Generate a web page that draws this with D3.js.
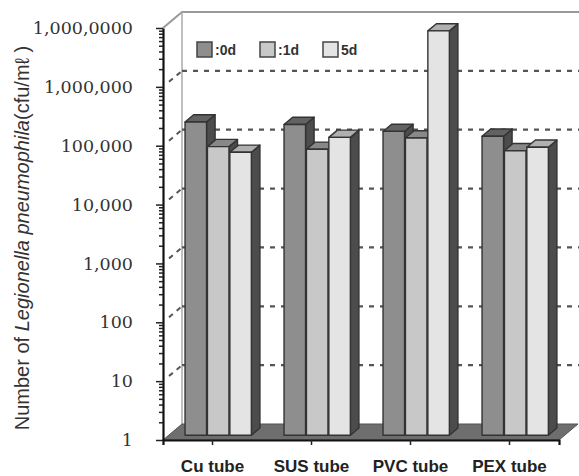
<!DOCTYPE html>
<html>
<head>
<meta charset="utf-8">
<script src="https://cdn.jsdelivr.net/npm/d3@7"></script>
<style>
  html, body { margin: 0; padding: 0; background: #fff; }
  svg { display: block; }
</style>
</head>
<body>
<svg id="chart" width="579" height="476"></svg>
<script>
// ---- data ----
const categories = ["Cu tube", "SUS tube", "PVC tube", "PEX tube"];
const seriesNames = ["0d", "1d", "5d"];
const legendLabels = [":0d", ":1d", "5d"];
const values0d = [210000, 190000, 145000, 120000];
const values1d = [80000, 72000, 112000, 68000];
const values5d = [64000, 115000, 7400000, 78000];
const tickValuesMajor = [1, 10, 100, 1000, 10000, 100000, 1000000, 10000000];
const tickLabels = ["1", "10", "100", "1,000", "10,000", "100,000", "1,000,000", "1,000,0000"];

const seriesValues = [values0d, values1d, values5d];
const frontColors = ["#8e8e8e", "#c8c8c8", "#e4e4e4"];
const topColors = ["#626262", "#888888", "#b0b0b0"];
const sideColor = "#4c4c4c";

const svg = d3.select("#chart");

// geometry
const x0 = 163, x1 = 559, yTop = 28, yBot = 440;
const D = [19, -16];            // wall depth
const bf = 0.3, bd = 0.45;      // bar front offset fraction, bar depth fraction
const bOff = [D[0] * bf, D[1] * bf];
const bDep = [D[0] * bd, D[1] * bd];

const y = d3.scaleLog().domain([1, 1e7]).range([yBot, yTop]);
const xCat = d3.scaleBand().domain(categories).range([x0, x1]).paddingInner(0.33).paddingOuter(0.165);
const xSer = d3.scaleBand().domain(seriesNames).range([0, xCat.bandwidth()]).paddingInner(0.04);

const pts = a => a.map(p => p.join(",")).join(" ");

// back wall
svg.append("polygon")
  .attr("points", pts([[x0 + D[0], yTop + D[1]], [x1 + D[0], yTop + D[1]], [x1 + D[0], yBot + D[1]], [x0 + D[0], yBot + D[1]]]))
  .attr("fill", "#fff");
// side wall
svg.append("polygon")
  .attr("points", pts([[x0, yTop], [x0 + D[0], yTop + D[1]], [x0 + D[0], yBot + D[1]], [x0, yBot]]))
  .attr("fill", "#fff");
// wall edges
svg.append("polyline")
  .attr("points", pts([[x0, yTop], [x0 + D[0], yTop + D[1]], [x1 + D[0] + 2, yTop + D[1]]]))
  .attr("fill", "none").attr("stroke", "#999").attr("stroke-width", 2);
svg.append("line")
  .attr("x1", x0 + D[0]).attr("x2", x0 + D[0]).attr("y1", yTop + D[1]).attr("y2", yBot + D[1])
  .attr("stroke", "#aaa").attr("stroke-width", 1.5);

// gridlines (back wall + side wall), dashed
const gridVals = tickValuesMajor.slice(1, -1);
svg.append("g").selectAll("line").data(gridVals).join("line")
  .attr("x1", x0 + D[0]).attr("x2", x1 + D[0] + 2)
  .attr("y1", d => y(d) + D[1]).attr("y2", d => y(d) + D[1])
  .attr("stroke", "#555").attr("stroke-width", 2.2).attr("stroke-dasharray", "5,6");
svg.append("g").selectAll("line").data(gridVals).join("line")
  .attr("x1", x0 + 6).attr("x2", x0 + D[0])
  .attr("y1", d => y(d) - 6 * 16 / 19).attr("y2", d => y(d) + D[1])
  .attr("stroke", "#555").attr("stroke-width", 2).attr("stroke-dasharray", "5,5");

// floor
svg.append("polygon")
  .attr("points", pts([[x0, yBot], [x1, yBot], [x1 + D[0], yBot + D[1]], [x0 + D[0], yBot + D[1]]]))
  .attr("fill", "#6e6e6e").attr("stroke", "#555").attr("stroke-width", 1);

// legend
const lg = svg.append("g");
const legX = [197, 260, 323];
seriesNames.forEach((s, i) => {
  lg.append("rect").attr("x", legX[i]).attr("y", 42).attr("width", 15).attr("height", 15)
    .attr("fill", frontColors[i]).attr("stroke", "#444").attr("stroke-width", 1.5);
  lg.append("text").attr("x", legX[i] + 18).attr("y", 55).text(legendLabels[i])
    .attr("font-family", "Liberation Sans, Arial, sans-serif").attr("font-weight", "bold")
    .attr("font-size", 14).attr("fill", "#333");
});

// bars
const bars = svg.append("g");
const bottomY = yBot + bOff[1];
seriesNames.forEach((s, si) => {
  categories.forEach((c, ci) => {
    const v = seriesValues[si][ci];
    const bx = xCat(c) + xSer(s) + bOff[0];
    const w = xSer.bandwidth();
    const ty = y(v) + bOff[1];
    const g = bars.append("g").attr("stroke", "#333").attr("stroke-width", 1.4).attr("stroke-linejoin", "round");
    g.append("polygon")
      .attr("points", pts([[bx + w, ty], [bx + w + bDep[0], ty + bDep[1]], [bx + w + bDep[0], bottomY + bDep[1]], [bx + w, bottomY]]))
      .attr("fill", sideColor);
    g.append("polygon")
      .attr("points", pts([[bx, ty], [bx + bDep[0], ty + bDep[1]], [bx + w + bDep[0], ty + bDep[1]], [bx + w, ty]]))
      .attr("fill", topColors[si]);
    g.append("rect").attr("x", bx).attr("y", ty).attr("width", w).attr("height", bottomY - ty)
      .attr("fill", frontColors[si]);
  });
});

// y axis
const minorTicks = [];
for (let e = 0; e < 7; e++) for (let m = 1; m < 10; m++) minorTicks.push(m * Math.pow(10, e));
minorTicks.push(1e7);
const yAxis = d3.axisLeft(y).tickValues(minorTicks)
  .tickFormat(d => { const i = tickValuesMajor.indexOf(d); return i >= 0 ? tickLabels[i] : ""; })
  .tickSizeOuter(0).tickPadding(24);
const ya = svg.append("g").attr("transform", `translate(${x0},0)`).call(yAxis);
ya.select(".domain").attr("stroke", "#111").attr("stroke-width", 2.2);
ya.selectAll(".tick line")
  .attr("x2", d => tickValuesMajor.includes(d) ? -7 : -4)
  .attr("stroke", "#222").attr("stroke-width", 1.5);
ya.selectAll(".tick text")
  .attr("font-family", "DejaVu Serif, serif").attr("font-size", 17.5).attr("fill", "#333");

// x axis
const xAxis = d3.axisBottom(xCat).tickSizeOuter(0).tickSize(5).tickPadding(15);
const xa = svg.append("g").attr("transform", `translate(0,${yBot})`).call(xAxis);
xa.select(".domain").attr("stroke", "#111").attr("stroke-width", 2.2);
xa.selectAll(".tick line").attr("stroke", "#222").attr("stroke-width", 1.5);
xa.selectAll(".tick text")
  .attr("font-family", "Liberation Sans, Arial, sans-serif").attr("font-weight", "bold")
  .attr("font-size", 17).attr("fill", "#222");

// y title
const title = svg.append("text")
  .attr("transform", "translate(29,238) rotate(-90)")
  .attr("text-anchor", "middle")
  .attr("font-family", "Liberation Sans, Arial, sans-serif")
  .attr("font-size", 20).attr("fill", "#333");
title.append("tspan").text("Number of ");
title.append("tspan").attr("font-style", "italic").text("Legionella pneumophila");
title.append("tspan").text("(cfu/mℓ )");
</script>
</body>
</html>
